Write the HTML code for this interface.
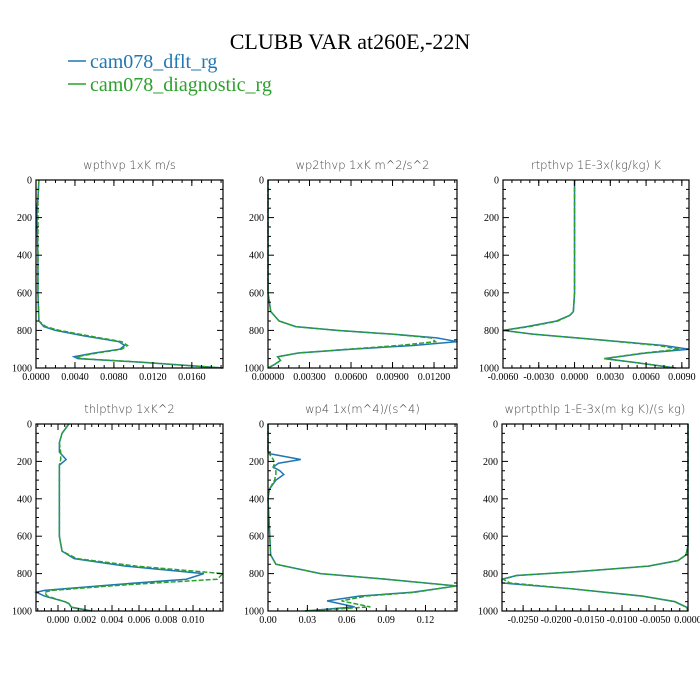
<!DOCTYPE html>
<html><head><meta charset="utf-8"><style>
html,body{margin:0;padding:0;background:#fff;}
svg{display:block;}
.tk{stroke:#000;stroke-width:1;}
.lab{font-family:"Liberation Serif",serif;font-size:10px;fill:#000;}
.pt{font-family:"DejaVu Sans","Liberation Sans",sans-serif;font-size:11.5px;fill:#444;font-weight:200;}
</style></head><body>
<svg id="fig" width="700" height="700" viewBox="0 0 700 700" xmlns="http://www.w3.org/2000/svg">
<text x="350" y="49" text-anchor="middle" font-family="Liberation Serif,serif" font-size="22">CLUBB VAR at260E,-22N</text>
<g>
<line x1="68" y1="61" x2="86" y2="61" stroke="#1f77b4" stroke-width="1.5"/>
<text x="90" y="68" font-family="Liberation Serif,serif" font-size="20" fill="#1f77b4">cam078_dflt_rg</text>
<line x1="68" y1="84" x2="86" y2="84" stroke="#2ca02c" stroke-width="1.5"/>
<text x="90" y="91" font-family="Liberation Serif,serif" font-size="20" fill="#2ca02c">cam078_diagnostic_rg</text>
</g>
</svg>
<script>
// y-axis pressure ticks
const yTicks=[0,200,400,600,800,1000];
// panel 1 wpthvp
const p1Lev=[0,100,150,200,400,600,750,780,800,830,860,880,900,920,940,950,970,1000];
const p1Blue=[0.0003,0.0002,0.0001,0.0001,0.0002,0.0002,0.0003,0.0008,0.002,0.005,0.0085,0.0091,0.0086,0.006,0.0039,0.0043,0.011,0.0192];
const p1Green=[0.0003,0.0002,0.0002,0.0002,0.0002,0.0002,0.0003,0.001,0.0024,0.0055,0.0088,0.0094,0.0088,0.0063,0.0042,0.0046,0.0112,0.0192];
const p1Ticks=[0,0.004,0.008,0.012,0.016];
const p1TickLabels=["0.0000","0.0040","0.0080","0.0120","0.0160"];
// panel 2 wp2thvp
const p2Lev=[0,600,650,700,750,780,800,820,840,860,880,900,920,940,960,980,1000];
const p2Blue=[0,0,0.0001,0.0002,0.0008,0.002,0.005,0.009,0.0122,0.0137,0.0105,0.006,0.0022,0.0007,0.0009,0.0005,0];
const p2Green=[0,0,0.0001,0.0002,0.0008,0.002,0.005,0.009,0.0118,0.0121,0.0095,0.0058,0.0022,0.0007,0.0009,0.0005,0];
const p2Ticks=[0,0.003,0.006,0.009,0.012];
const p2TickLabels=["0.00000","0.00300","0.00600","0.00900","0.01200"];
// panel 3 rtpthvp
const p3Lev=[0,600,700,720,750,780,800,820,850,880,900,920,950,970,1000];
const p3Blue=[0,0,-0.0001,-0.0004,-0.0015,-0.004,-0.006,-0.0035,0.002,0.0075,0.0096,0.006,0.0025,0.005,0.0085];
const p3Green=[0,0,-0.0001,-0.0004,-0.0014,-0.0038,-0.006,-0.0035,0.002,0.007,0.0088,0.0058,0.0025,0.005,0.0085];
const p3Ticks=[-0.006,-0.003,0,0.003,0.006,0.009];
const p3TickLabels=["-0.0060","-0.0030","0.0000","0.0030","0.0060","0.0090"];
// panel 4 thlpthvp
const p4Lev=[0,50,100,150,190,220,300,600,680,720,760,800,830,860,890,900,920,950,960,980,1000];
const p4Blue=[0.0008,0.0003,0.0001,0.0001,0.0006,0.0001,0.0001,0.0001,0.0003,0.0012,0.005,0.0108,0.0095,0.004,-0.001,-0.0016,-0.001,0.0005,0.0008,0.001,0.0025];
const p4Green=[0.0008,0.0003,0.0001,0.0002,0.0002,0.0001,0.0001,0.0001,0.0003,0.0014,0.0058,0.0122,0.0118,0.005,-0.0005,-0.001,-0.0008,0.0005,0.0008,0.001,0.0025];
const p4Ticks=[0,0.002,0.004,0.006,0.008,0.010];
const p4TickLabels=["0.000","0.002","0.004","0.006","0.008","0.010"];
// panel 5 wp4
const p5Lev=[0,150,160,190,210,230,250,270,300,350,400,700,750,800,830,866,900,920,946,978,1000];
const p5Blue=[0,0,0.002,0.025,0.008,0.004,0.009,0.012,0.006,0.001,0,0.002,0.006,0.04,0.09,0.144,0.11,0.07,0.045,0.066,0.028];
const p5Green=[0,0,0.001,0.004,0.005,0.004,0.006,0.006,0.005,0.001,0,0.002,0.006,0.04,0.09,0.143,0.112,0.075,0.056,0.078,0.028];
const p5Ticks=[0,0.03,0.06,0.09,0.12];
const p5TickLabels=["0.00","0.03","0.06","0.09","0.12"];
// panel 6 wprtpthlp
const p6Lev=[0,650,700,730,760,790,810,830,850,880,920,950,980,1000];
const p6Blue=[0,0,-0.0003,-0.0015,-0.006,-0.017,-0.026,-0.0282,-0.0282,-0.018,-0.007,-0.002,-0.0002,0];
const p6Green=[0,0,-0.0003,-0.0015,-0.006,-0.017,-0.026,-0.028,-0.027,-0.018,-0.007,-0.002,-0.0002,0];
const p6Ticks=[-0.025,-0.02,-0.015,-0.01,-0.005,0];
const p6TickLabels=["-0.0250","-0.0200","-0.0150","-0.0100","-0.0050","0.0000"];

const NS="http://www.w3.org/2000/svg";
const svg=document.getElementById('fig');
function mk(tag,attrs,parent){const e=document.createElementNS(NS,tag);for(const k in attrs)e.setAttribute(k,attrs[k]);(parent||svg).appendChild(e);return e;}

const panels=[
 {id:'wpthvp',title:'wpthvp   1xK m/s',x0:36,x1:223,y0:180,y1:368,xmin:0,xmax:0.0192,lev:p1Lev,b:p1Blue,g:p1Green,ticks:p1Ticks,tl:p1TickLabels,minor:0.001},
 {id:'wp2thvp',title:'wp2thvp   1xK m^2/s^2',x0:268,x1:457,y0:180,y1:368,xmin:0,xmax:0.01366,lev:p2Lev,b:p2Blue,g:p2Green,ticks:p2Ticks,tl:p2TickLabels,minor:0.00075},
 {id:'rtpthvp',title:'rtpthvp   1E-3x(kg/kg) K',x0:503,x1:689,y0:180,y1:368,xmin:-0.006,xmax:0.0096,lev:p3Lev,b:p3Blue,g:p3Green,ticks:p3Ticks,tl:p3TickLabels,minor:0.00075},
 {id:'thlpthvp',title:'thlpthvp   1xK^2',x0:36,x1:223,y0:424,y1:611,xmin:-0.00163,xmax:0.01222,lev:p4Lev,b:p4Blue,g:p4Green,ticks:p4Ticks,tl:p4TickLabels,minor:0.0005},
 {id:'wp4',title:'wp4   1x(m^4)/(s^4)',x0:268,x1:457,y0:424,y1:611,xmin:0,xmax:0.144,lev:p5Lev,b:p5Blue,g:p5Green,ticks:p5Ticks,tl:p5TickLabels,minor:0.0075},
 {id:'wprtpthlp',title:'wprtpthlp   1-E-3x(m kg K)/(s kg)',x0:502,x1:688,y0:424,y1:611,xmin:-0.0282,xmax:0,lev:p6Lev,b:p6Blue,g:p6Green,ticks:p6Ticks,tl:p6TickLabels,minor:0.00125}
];

panels.forEach(p=>{
 const g=mk('g',{});
 
 
 const X=v=>p.x0+(v-p.xmin)/(p.xmax-p.xmin)*(p.x1-p.x0);
 const Y=v=>p.y0+v/1000*(p.y1-p.y0);
 const t=mk('text',{x:(p.x0+p.x1)/2,y:p.y0-11,'text-anchor':'middle',class:'pt'},g);
 t.textContent=p.title;
 
 
 // series
 [[p.b,'#1f77b4',''],[p.g,'#2ca02c','5,2']].forEach((s,i)=>{
  const d=s[0].map((v,j)=>(j?'L':'M')+X(v).toFixed(2)+','+Y(p.lev[j]).toFixed(2)).join('');
  const path=mk('path',{d:d,fill:'none',stroke:s[1],'stroke-width':1.5,'stroke-dasharray':s[2]},g);
  
  
 });
 const fr=mk('rect',{x:p.x0,y:p.y0,width:p.x1-p.x0,height:p.y1-p.y0,fill:'none',stroke:'#000','stroke-width':1.2},g);
 
 
 // y ticks
 for(let v=0;v<=1000;v+=50){
  const major=v%200===0,L=major?6:3,y=Y(v);
  mk('line',{x1:p.x0,y1:y,x2:p.x0+L,y2:y,class:'tk'},g);
  mk('line',{x1:p.x1,y1:y,x2:p.x1-L,y2:y,class:'tk'},g);
 }
 yTicks.forEach(v=>{
  const tx=mk('text',{x:p.x0-4,y:Y(v)+3.5,'text-anchor':'end',class:'lab'},g);
  tx.textContent=v;
  
  
 });
 // x ticks
 const st=Math.ceil((p.xmin-1e-12)/p.minor);
 for(let k=st;k*p.minor<=p.xmax+1e-12;k++){
  const x=X(k*p.minor);
  mk('line',{x1:x,y1:p.y0,x2:x,y2:p.y0+3,class:'tk'},g);
  mk('line',{x1:x,y1:p.y1,x2:x,y2:p.y1-3,class:'tk'},g);
 }
 p.ticks.forEach((v,i)=>{
  const x=X(v);
  mk('line',{x1:x,y1:p.y0,x2:x,y2:p.y0+6,class:'tk'},g);
  mk('line',{x1:x,y1:p.y1,x2:x,y2:p.y1-6,class:'tk'},g);
  const tx=mk('text',{x:x,y:p.y1+12,'text-anchor':'middle',class:'lab'},g);
  tx.textContent=p.tl[i];
  
  
 });
});
</script>
</body></html>
